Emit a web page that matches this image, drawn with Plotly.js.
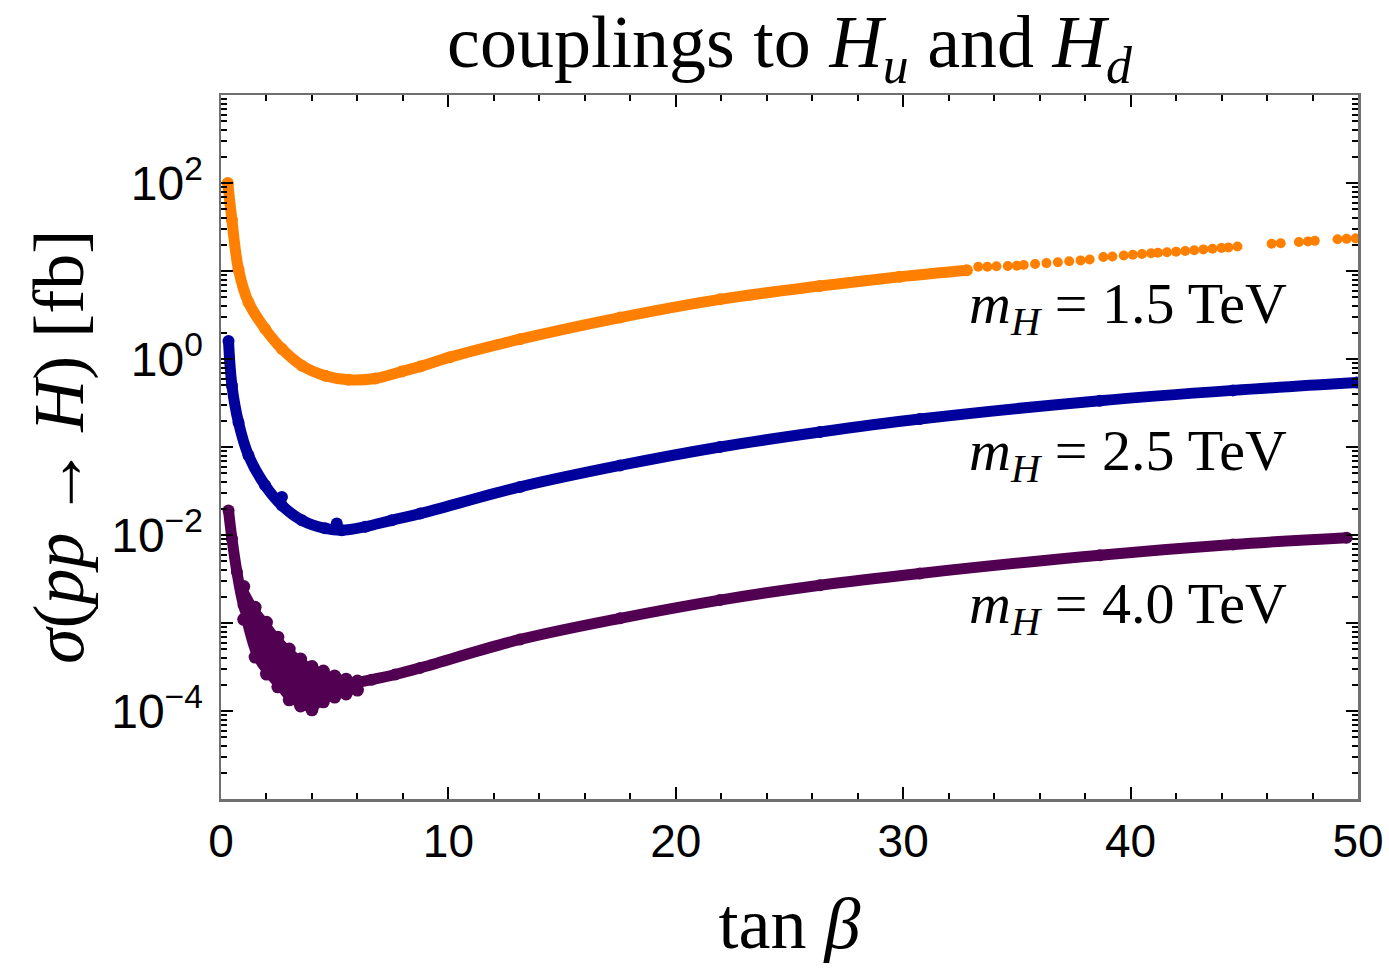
<!DOCTYPE html>
<html>
<head>
<meta charset="utf-8">
<script src="https://cdn.plot.ly/plotly-3.0.1.min.js"></script>
<style>html,body{margin:0;padding:0;background:#fff;}</style>
</head>
<body>
<div id="chart" style="width:1389px;height:979px;"></div>
<script>
// ── values (tan beta, sigma in fb) ──────────────────────────────
var tbOrange  = [0.30, 0.48, 0.77, 1.21, 1.94, 2.68, 3.56, 4.58, 5.60, 6.78, 7.95, 8.76, 10.07, 13.15, 17.55, 21.94, 26.34, 29.85, 32.80];
var sigOrange = [100, 38, 10.4, 4.4, 2.2, 1.3, 0.84, 0.645, 0.58, 0.60, 0.72, 0.82, 1.05, 1.68, 2.96, 4.76, 6.74, 8.6, 10.2];

// sparse dots at the high tan beta end of the 1.5 TeV curve
var tbOrangeTail  = [33.3, 33.7, 34.1, 34.6, 35.0, 35.3, 35.8, 36.3, 36.8, 37.3, 37.8, 38.2, 38.8, 39.2,
                     39.7, 40.1, 40.5, 40.9, 41.2, 41.6, 42.0, 42.4, 42.8, 43.2, 43.6, 44.0, 44.3, 44.7,
                     46.2, 46.6, 47.4, 47.8, 48.1, 49.1, 49.5, 49.9];
var sigOrangeTail = [11.2, 11.2, 11.3, 11.4, 11.5, 11.7, 12.0, 12.3, 12.6, 12.9, 13.2, 13.5, 14.4, 14.6,
                     15.0, 15.3, 15.6, 15.9, 16.1, 16.3, 16.6, 16.9, 17.2, 17.6, 17.9, 18.3, 18.5, 19.0,
                     20.4, 20.7, 21.4, 21.7, 22.0, 22.9, 23.2, 23.5];

var tbBlue  = [0.33, 0.48, 0.77, 1.21, 1.94, 2.68, 3.56, 4.58, 5.31, 6.34, 7.51, 8.76, 13.15, 17.55, 21.94, 26.34, 30.73, 38.65, 44.50, 49.94];
var sigBlue = [1.6, 0.50, 0.19, 0.080, 0.0367, 0.0217, 0.0147, 0.0119, 0.0113, 0.0124, 0.0147, 0.0175, 0.0352, 0.0617, 0.100, 0.148, 0.208, 0.336, 0.44, 0.54];
var tbBlueStray  = [2.68, 5.09];
var sigBlueStray = [0.027, 0.0135];

var tbPurple  = [0.33, 0.48, 0.70, 0.99, 1.36, 1.80, 2.38, 3.12, 3.85, 4.73, 5.60, 6.63, 7.66, 8.76, 13.15, 17.55, 21.94, 26.34, 30.73, 38.65, 44.50, 49.50];
var sigPurple = [0.019, 9.1e-3, 3.8e-3, 1.6e-3, 8.7e-4, 4.77e-4, 2.8e-4, 2.0e-4, 1.67e-4, 1.67e-4, 2.0e-4, 2.27e-4, 2.6e-4, 3.09e-4, 6.5e-4, 1.13e-3, 1.82e-3, 2.69e-3, 3.66e-3, 5.9e-3, 7.8e-3, 9.3e-3];
// upper and lower edge of the scattered cloud round the 4.0 TeV minimum
var tbPurpleUp   = [1.0, 1.5, 2.0, 2.5, 3.0, 3.5, 4.0, 4.5, 5.0, 5.5, 6.0];
var sigPurpleUp  = [2.6e-3, 1.51e-3, 1.02e-3, 6.9e-4, 5.05e-4, 3.9e-4, 3.2e-4, 2.84e-4, 2.5e-4, 2.3e-4, 2.19e-4];
var tbPurpleLow  = [1.0, 1.5, 2.0, 2.5, 3.0, 3.5, 4.0, 4.5, 5.0, 5.5, 6.0];
var sigPurpleLow = [1.1e-3, 4.1e-4, 2.63e-4, 1.88e-4, 1.34e-4, 1.14e-4, 1.03e-4, 1.27e-4, 1.44e-4, 1.56e-4, 1.73e-4];

var yTickLabelVals = [1e-4, 1e-2, 1, 100];
var yTickLabelText = ['10<sup>\u22124</sup>', '10<sup>\u22122</sup>', '10<sup>0</sup>', '10<sup>2</sup>'];
var yTickOddVals   = [1e-5, 1e-3, 1e-1, 10, 1000];
var xTickVals = [0, 10, 20, 30, 40, 50];

var massLabels = ['1.5', '2.5', '4.0'];
var massLabelY = [0.58, -1.09, -2.82];   // log10 position of each label

var C_ORANGE = '#ff8000', C_BLUE = '#00009c', C_PURPLE = '#520052';
var SERIF = 'Liberation Serif, Times New Roman, serif';
var SANS  = 'Liberation Sans, Arial, sans-serif';

function band(x, y, col) {
    return { x: x, y: y, type: 'scatter', mode: 'lines+markers',
        line: { color: col, width: 11, shape: 'spline' },
        marker: { color: col, size: 12 }, hoverinfo: 'skip', showlegend: false };
}
function dots(x, y, col, sz) {
    return { x: x, y: y, type: 'scatter', mode: 'markers',
        marker: { color: col, size: sz }, hoverinfo: 'skip', showlegend: false };
}

var purpleLow = band(tbPurpleLow, sigPurpleLow, C_PURPLE);
purpleLow.line.width = 5; purpleLow.marker.size = 13;
var purpleUp = band(tbPurpleUp, sigPurpleUp, C_PURPLE);
purpleUp.line.width = 5; purpleUp.marker.size = 13;
purpleUp.fill = 'tonexty'; purpleUp.fillcolor = C_PURPLE;

var traces = [
    band(tbOrange, sigOrange, C_ORANGE),
    dots(tbOrangeTail, sigOrangeTail, C_ORANGE, 10),
    band(tbBlue, sigBlue, C_BLUE),
    dots(tbBlueStray, sigBlueStray, C_BLUE, 12),
    band(tbPurple, sigPurple, C_PURPLE),
    purpleLow,
    purpleUp,
    // carries the unlabeled odd-decade major ticks
    { x: [], y: [], type: 'scatter', mode: 'markers', yaxis: 'y2', hoverinfo: 'skip', showlegend: false }
];

var annotations = massLabels.map(function (m, i) {
    return { x: 32.8, y: massLabelY[i], xref: 'x', yref: 'y', xanchor: 'left', yanchor: 'middle',
        text: '<i>m</i><sub><i>H</i></sub> = ' + m + ' TeV', showarrow: false,
        font: { family: SERIF, size: 58, color: '#000' } };
});

var axisCommon = {
    showgrid: false, zeroline: false, showline: true, linecolor: '#707070', linewidth: 2.5,
    mirror: 'ticks', ticks: 'inside', ticklen: 12, tickwidth: 2, tickcolor: '#000'
};

var layout = {
    width: 1389, height: 979,
    margin: { l: 221, r: 31, t: 95, b: 180 },
    paper_bgcolor: '#fff', plot_bgcolor: '#fff',
    title: { text: 'couplings to <i>H</i><sub><i>u</i></sub> and <i>H</i><sub><i>d</i></sub>',
        font: { family: SERIF, size: 74, color: '#000' }, x: 0.5, xref: 'paper', y: 0.958, yanchor: 'middle' },
    xaxis: Object.assign({}, axisCommon, {
        range: [0, 50], tickmode: 'array', tickvals: xTickVals,
        tickfont: { family: SANS, size: 46, color: '#000' },
        minor: { dtick: 2, ticks: 'inside', ticklen: 6, tickwidth: 2, tickcolor: '#000' },
        title: { text: 'tan <i>\u03b2</i>', font: { family: SERIF, size: 72, color: '#000' }, standoff: 32 }
    }),
    yaxis: Object.assign({}, axisCommon, {
        type: 'log', range: [-5, 3], tickmode: 'array', tickvals: yTickLabelVals, ticktext: yTickLabelText,
        tickfont: { family: SANS, size: 48, color: '#000' }, ticklabelstandoff: 6,
        minor: { dtick: 'D1', ticks: 'inside', ticklen: 6, tickwidth: 2, tickcolor: '#000' },
        title: { text: '<i>\u03c3</i>(<i>pp</i>\u2009\u2192\u2009<i>H</i>) [fb]', font: { family: SERIF, size: 72, color: '#000' }, standoff: 4 }
    }),
    yaxis2: {
        type: 'log', range: [-5, 3], overlaying: 'y', anchor: 'x', side: 'left',
        tickmode: 'array', tickvals: yTickOddVals, showticklabels: false,
        ticks: 'inside', ticklen: 12, tickwidth: 2, tickcolor: '#000',
        showline: false, mirror: 'ticks', showgrid: false, zeroline: false
    },
    annotations: annotations
};

Plotly.newPlot('chart', traces, layout, { displayModeBar: false, staticPlot: true });
</script>
</body>
</html>
